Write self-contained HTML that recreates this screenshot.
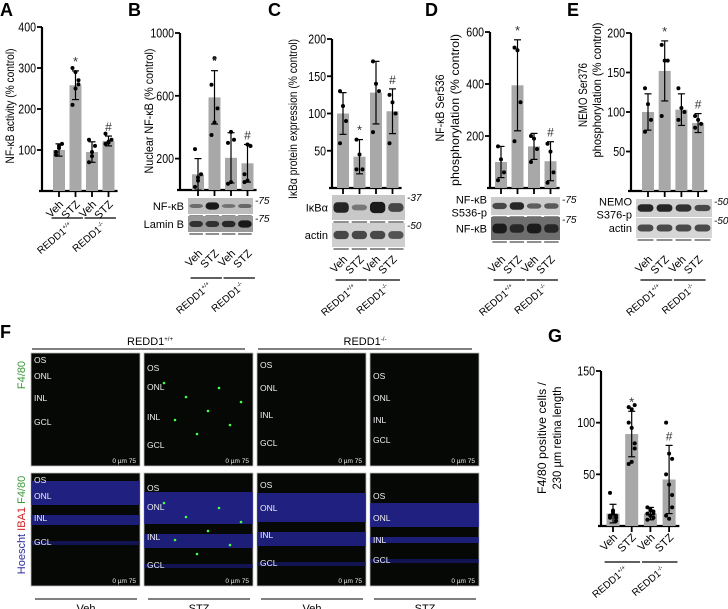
<!DOCTYPE html>
<html><head><meta charset="utf-8"><style>
body{margin:0;background:#fff}
svg{display:block;font-family:"Liberation Sans",Arial,sans-serif}
</style></head><body>
<svg id="fig" width="728" height="609" viewBox="0 0 728 609"></svg>
<script>
const groupLabels=["Veh","STZ","Veh","STZ"];
const aValues=[100,258,95,122], aErr=[15,35,25,12];
const aPts=[[95,105,115,88,110],[210,250,260,300,290,270],[70,85,110,125,95],[115,118,125,140,120]];
const aTicks=[100,200,300,400];
const bValues=[100,590,205,170], bErr=[100,170,160,120];
const bPts=[[20,60,100,260,80],[350,430,520,670,840],[40,370,320,300,50],[50,290,280,100,60]];
const bTicks=[200,600,1000];
const cValues=[100,42,128,103], cErr=[28,23,42,30];
const cPts=[[130,110,90,60],[65,45,25,25],[170,140,130,75],[125,115,100,60]];
const cTicks=[50,100,150,200];
const dValues=[100,395,160,103], dErr=[60,175,50,75];
const dPts=[[160,110,60,30],[540,530,330,180],[200,190,150,100],[170,140,60,20]];
const dTicks=[200,400,600];
const eValues=[100,152,103,86], eErr=[23,38,20,12];
const ePts=[[130,110,90,75],[185,165,165,95],[130,105,100,90],[95,90,85,80]];
const eTicks=[50,100,150,200];
const gValues=[12,89,12,45], gErr=[9,22,6,33];
const gPts=[[32,15,10,8,12,5,10,14,8],[115,113,117,100,95,80,60,62,75],[18,16,14,12,10,8,6,15,12],[100,70,65,50,40,18,10,7,30]];
const gTicks=[50,100,150];
const sigMarks=["","*","","#"];

const NS="http://www.w3.org/2000/svg";const svg=document.getElementById('fig');
function el(t,a,p){const e=document.createElementNS(NS,t);for(const k in a)e.setAttribute(k,a[k]);(p||svg).appendChild(e);return e;}
function txt(s,a,p){const e=el('text',a,p);e.textContent=s;return e;}

function panel(id,o,vals,errs,pts,ticks){
  const g=el('g',{});
  
  
  const yS=v=>o.y0-(v/o.max)*(o.y0-o.yTop);
  const xS=i=>o.ax+o.off+i*o.step;
  el('line',{x1:o.ax,y1:o.yTop,x2:o.ax,y2:o.y0,stroke:'#000','stroke-width':2.2},g);
  el('line',{x1:o.ax-3,y1:o.y0,x2:xS(3)+o.step*0.55,y2:o.y0,stroke:'#000','stroke-width':2.2},g);
  ticks.forEach(t=>{const y=yS(t);
    el('line',{x1:o.ax-5,y1:y,x2:o.ax,y2:y,stroke:'#000','stroke-width':1.8},g);
    const s=String(t);
    const l=txt(s,{x:o.ax-6,y:y+4.5,'text-anchor':'end','font-size':12.5,textLength:s.length*5.9,lengthAdjust:'spacingAndGlyphs'},g);
    });
  vals.forEach((v,i)=>{const cx=xS(i),w=o.bw;
    const r=el('rect',{x:cx-w/2,y:yS(v),width:w,height:o.y0-yS(v),fill:'#a8a8a8'},g);
    
    const e1=yS(v+errs[i]),e2=yS(Math.max(0,v-errs[i]));
    el('line',{x1:cx,y1:e1,x2:cx,y2:e2,stroke:'#000','stroke-width':1.2},g);
    el('line',{x1:cx-3.5,y1:e1,x2:cx+3.5,y2:e1,stroke:'#000','stroke-width':1.2},g);
    el('line',{x1:cx-3.5,y1:e2,x2:cx+3.5,y2:e2,stroke:'#000','stroke-width':1.2},g);
    pts[i].forEach((p,j)=>{const dx=((j%3)-1)*3;
      const c=el('circle',{cx:cx+dx,cy:yS(p),r:2,fill:'#000'},g);
      });
    if(sigMarks[i]){const s=txt(sigMarks[i],{x:cx,y:yS(v+errs[i])-5,'text-anchor':'middle','font-size':sigMarks[i]=='*'?13:12,fill:'#333'},g);
      }
    el('line',{x1:cx,y1:o.y0,x2:cx,y2:o.y0+6,stroke:'#000','stroke-width':1.8},g);
    const ly=o.lblY;
    const l=txt(groupLabels[i],{x:cx+5,y:ly,'text-anchor':'end','font-size':11,transform:`rotate(-45 ${cx+5} ${ly})`},g);
    
  });
  const gy=o.grpY;
  [[0,1,'REDD1','+/+'],[2,3,'REDD1','-/-']].forEach(([a,b,n,s])=>{
    el('line',{x1:xS(a)-o.step*0.45,y1:gy,x2:xS(b)+o.step*0.45,y2:gy,stroke:'#000','stroke-width':1.3},g);
    const cx=(xS(a)+xS(b))/2+6,cy=gy+9;
    const t=txt('',{x:cx,y:cy,'text-anchor':'end','font-size':10,transform:`rotate(-40 ${cx} ${cy})`},g);
    t.innerHTML=n+'<tspan font-size="6" dy="-4">'+s+'</tspan>';
    
  });
  o.title.forEach((line,k)=>{const x=o.tx[k],y=o.ty[k];
    const t=txt(line,{x:x,y:y,'text-anchor':'middle','font-size':12,textLength:o.tl[k],lengthAdjust:'spacingAndGlyphs',transform:`rotate(-90 ${x} ${y})`},g);
    });
}
function letter(s,x,y){const t=txt(s,{x:x,y:y,'font-size':18,'font-weight':'bold'});}
function blot(name,x,y,w,h,bg,intens,label,mw){
  const g=el('g',{});
  el('rect',{x:x,y:y,width:w,height:h,fill:bg},g);
  intens.forEach((v,i)=>{const lw=w/4;el('rect',{x:x+lw*(i+0.08),y:y+h/2-h*0.16*(0.6+v*0.8),width:lw*0.84,height:h*0.32*(0.6+v*0.8),rx:4,fill:'#111',opacity:0.35+0.6*v},g);
    el('line',{x1:x+lw*(i+0.08),y1:y+h+2,x2:x+lw*(i+0.92),y2:y+h+2,stroke:'#222','stroke-width':1},g);});
  label.forEach((l,k)=>txt(l,{x:x-4,y:y+h/2+4+(k-(label.length-1)/2)*13,'text-anchor':'end','font-size':11},g));
  if(mw)txt(mw,{x:x+w+2,y:y+6,'font-size':10,'font-style':'italic'},g);
}
letter('A',0,16);letter('B',128,16);letter('C',268,16);letter('D',425,16);letter('E',567,16);letter('F',0,338);letter('G',548,342);

panel('a',{ax:42,y0:191,yTop:27,max:400,off:17,step:16.5,bw:12,lblY:205,grpY:218,title:['NF-κB activity (% control)'],tx:[14],ty:[106],tl:[115]},aValues,aErr,aPts,aTicks);
panel('b',{ax:180,y0:190,yTop:33,max:1000,off:18,step:16.5,bw:12,lblY:254,grpY:278,title:['Nuclear NF-κB (% control)'],tx:[153],ty:[111],tl:[125]},bValues,bErr,bPts,bTicks);
panel('c',{ax:332,y0:188,yTop:39,max:200,off:11,step:16.5,bw:12,lblY:260,grpY:280,title:['IκBα protein expression (% control)'],tx:[297],ty:[119],tl:[160]},cValues,cErr,cPts,cTicks);
panel('d',{ax:490,y0:188,yTop:32,max:600,off:11,step:16.5,bw:12,lblY:260,grpY:280,title:['NF-κB  Ser536','phosphorylation (% control)'],tx:[444,459],ty:[108,110],tl:[67,152]},dValues,dErr,dPts,dTicks);
panel('e',{ax:631,y0:191,yTop:33,max:200,off:17,step:16.7,bw:12,lblY:260,grpY:280,title:['NEMO  Ser376','phosphorylation (% control)'],tx:[587,601],ty:[95,90],tl:[64,135]},eValues,eErr,ePts,eTicks);
panel('g',{ax:601,y0:526,yTop:371,max:150,off:12,step:18.7,bw:13,lblY:538,grpY:562,title:['F4/80 positive cells /','230 µm retina length'],tx:[546,561],ty:[438,438],tl:[112,103]},gValues,gErr,gPts,gTicks);

blot('nfkb-blot',188,198,65,16,'#bdbdbd',[0.2,1,0.15,0.25],['NF-κB'],'-75');
blot('laminb-blot',188,216,65,16,'#9a9a9a',[0.7,0.7,0.8,1],['Lamin B'],'-75');
blot('ikba-blot',332,195,73,25,'#c8c8c8',[0.9,0.15,1,0.6],['IκBα'],'-37');
blot('actin-blot-c',332,223,73,24,'#cfcfcf',[0.6,0.6,0.6,0.5],['actin'],'-50');
blot('nfkb-s536-blot',491,197,69,18,'#cccccc',[0.6,0.9,0.4,0.45],['NF-κB','S536-p'],'-75');
blot('nfkb-total-blot',491,217,69,23,'#6e6e6e',[0.9,0.7,0.9,0.7],['NF-κB'],'-75');
blot('nemo-blot',636,199,76,18,'#cfcfcf',[0.9,0.9,0.8,0.6],['NEMO','S376-p'],'-50');
blot('actin-blot-e',636,218,76,20,'#d6d6d6',[0.6,0.6,0.6,0.6],['actin'],'-50');

// Panel F
const fCols=[31,144,257,370];
const h1=txt('',{x:150,y:345,'text-anchor':'middle','font-size':11});h1.innerHTML='REDD1<tspan font-size="6" dy="-4">+/+</tspan>';

const h2=txt('',{x:365,y:345,'text-anchor':'middle','font-size':11});h2.innerHTML='REDD1<tspan font-size="6" dy="-4">-/-</tspan>';

el('line',{x1:32,y1:349,x2:245,y2:349,stroke:'#000'});el('line',{x1:258,y1:349,x2:472,y2:349,stroke:'#000'});
const l1=txt('F4/80',{x:25,y:375,'text-anchor':'middle','font-size':11,fill:'#3a9a3a',transform:'rotate(-90 25 375)'});

const l2=txt('',{x:25,y:525,'text-anchor':'middle','font-size':11,transform:'rotate(-90 25 525)'});
l2.innerHTML='<tspan fill="#2a2aa0">Hoescht </tspan><tspan fill="#d02020">IBA1 </tspan><tspan fill="#3a9a3a">F4/80</tspan>';

const layerY=[[0,16,38,62],[8,27,57,85],[5,28,55,83],[16,38,60,80]];
[0,1].forEach(r=>fCols.forEach((x,c)=>{
  const y=r?473:353;const g=el('g',{});
  
  el('rect',{x:x,y:y,width:109,height:113,fill:'#050805',stroke:'#bbb','stroke-width':0.8},g);
  const ly=layerY[c];
  if(r){el('rect',{x:x,y:y+ly[1]-8,width:109,height:ly[2]-ly[1]+2,fill:'#2828a8',opacity:0.75},g);
    el('rect',{x:x,y:y+ly[2]+4,width:109,height:ly[3]-ly[2]-14,fill:'#2828a8',opacity:0.7},g);
    el('rect',{x:x,y:y+ly[3]+6,width:109,height:4,fill:'#2020a0',opacity:0.5},g);}
  ['OS','ONL','INL','GCL'].forEach((s,k)=>txt(s,{x:x+3,y:y+ly[k]+10,'font-size':8.5,fill:'#eee'},g));
  txt('0   µm   75',{x:x+105,y:y+110,'text-anchor':'end','font-size':6.5,fill:'#eee'},g);
  if(c==1)for(let k=0;k<8;k++)el('circle',{cx:x+20+k*11,cy:y+30+((k*37)%60),r:1.3,fill:'#4f4'},g);
}));
[['Veh',35,137],['STZ',148,250],['Veh',261,363],['STZ',374,476]].forEach(([s,a,b])=>{
  el('line',{x1:a,y1:599,x2:b,y2:599,stroke:'#000'});
  const t=txt(s,{x:(a+b)/2,y:612,'text-anchor':'middle','font-size':11});
  });
</script>
</body></html>
